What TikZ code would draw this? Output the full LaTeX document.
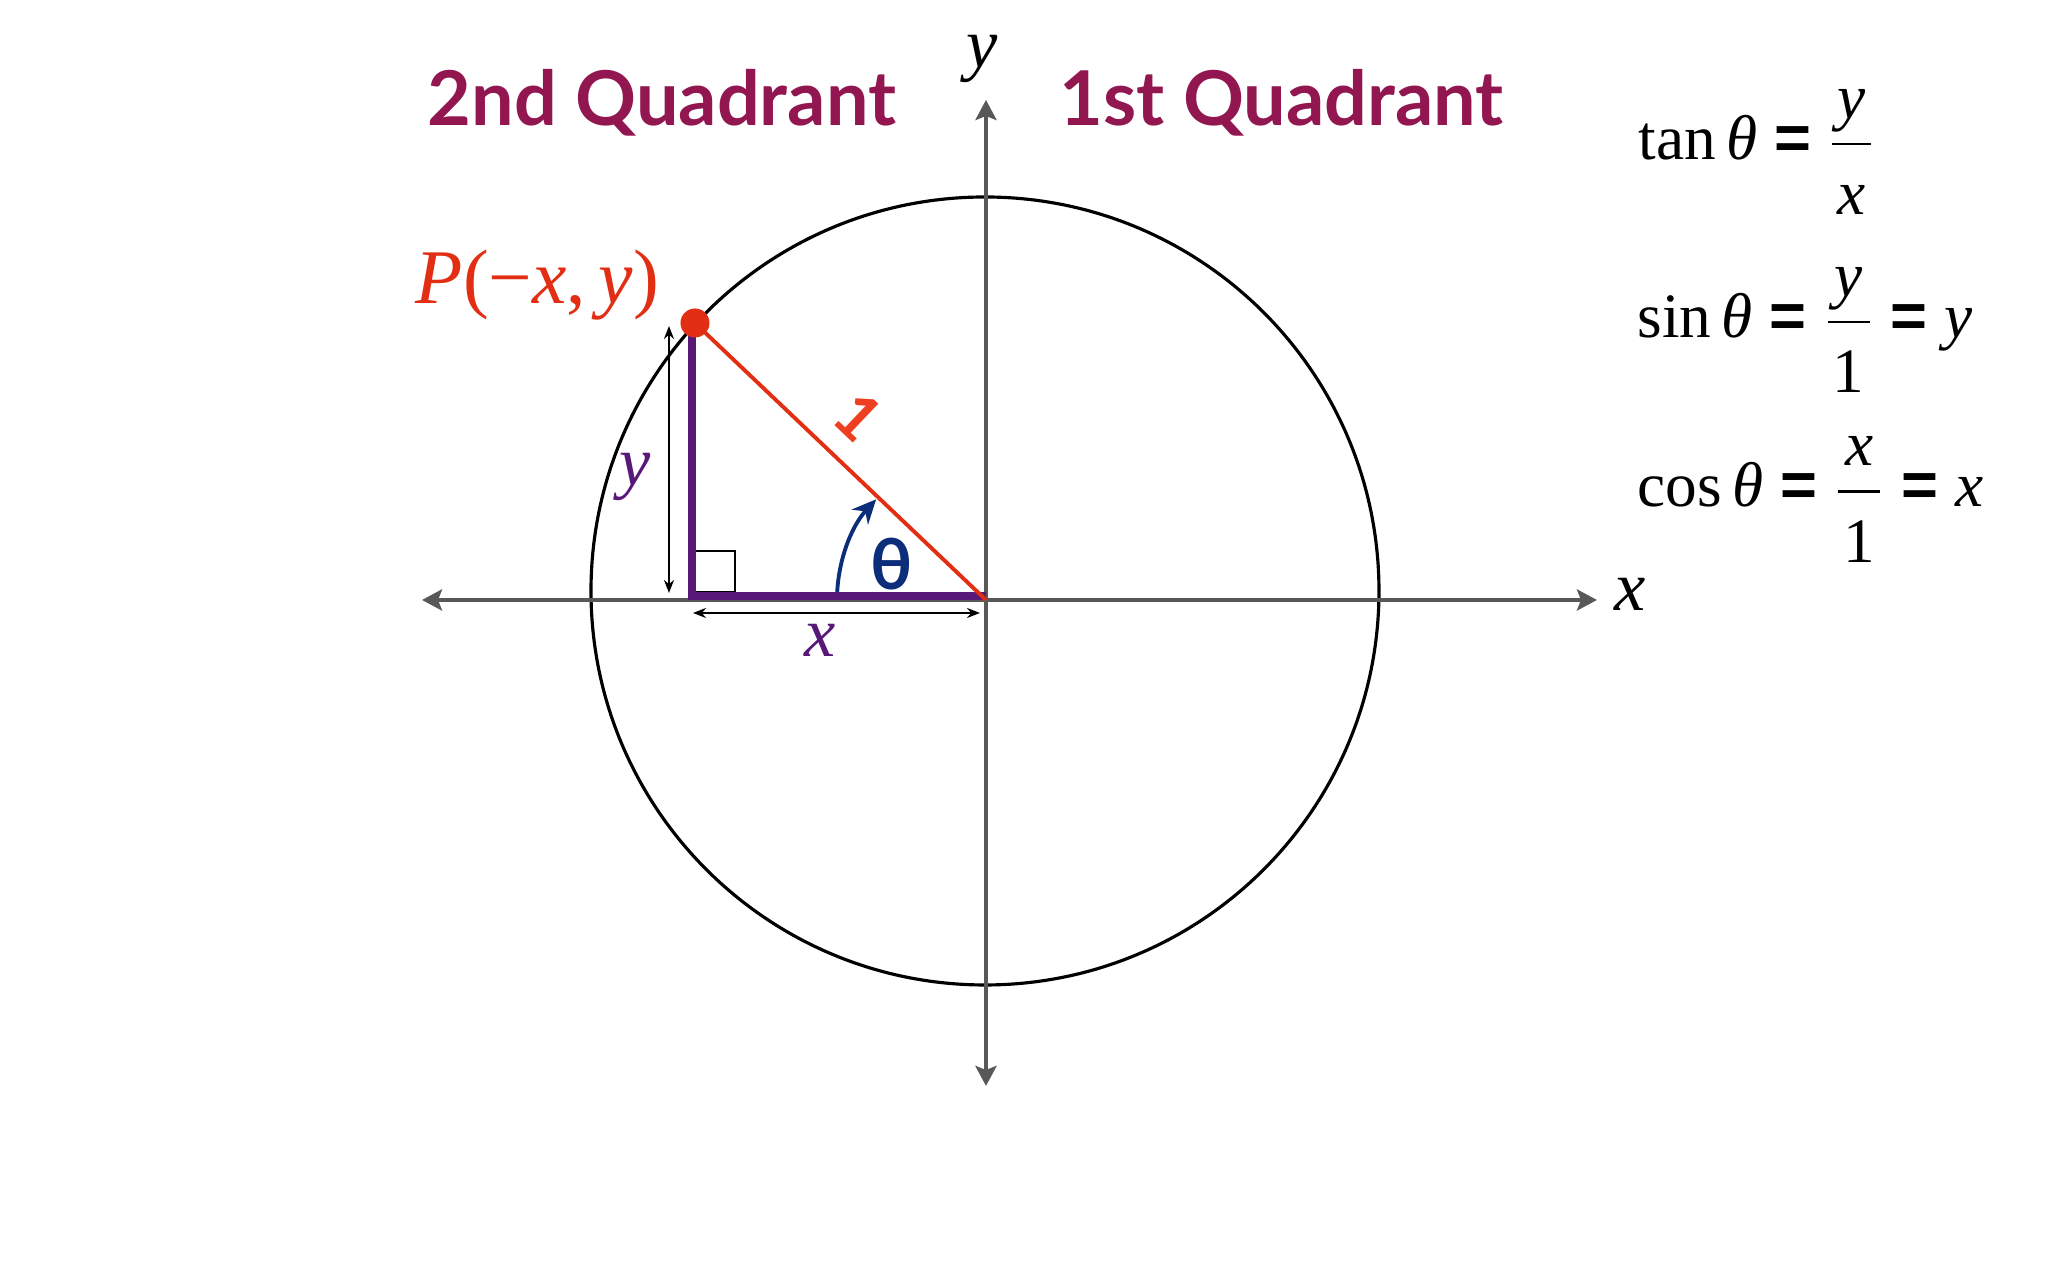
\documentclass[tikz,border=0pt]{standalone}
\usepackage{fontspec}
\usepackage{amsmath}
\setmainfont{Liberation Serif}
\newfontfamily\quadfont{Lato}
\newfontfamily\eqfont{Liberation Sans}
\usetikzlibrary{arrows.meta}

\definecolor{quadred}{RGB}{146,22,80}
\definecolor{pointred}{RGB}{226,46,18}
\definecolor{barred}{RGB}{238,64,32}
\definecolor{sidepurple}{RGB}{88,24,120}
\definecolor{anglenavy}{RGB}{12,46,122}
\definecolor{axisgray}{RGB}{88,88,88}

\newcommand{\varit}[1]{\text{\itshape #1}}
\newcommand{\eqsign}{\mathrel{\text{\eqfont\bfseries =}}}
\newcommand{\ratio}[2]{\frac{\kern1.5pt#1\kern1.5pt}{\kern1.5pt\raisebox{-4pt}{#2}\kern1.5pt}}

\begin{document}
\begin{tikzpicture}[
  axis/.style={draw=axisgray,line width=1.2pt,{Stealth[length=0.2cm,width=0.21cm,inset=0.04cm]}-{Stealth[length=0.2cm,width=0.21cm,inset=0.04cm]}},
  measure/.style={draw=black,line width=0.6pt,{Stealth[length=0.13cm,width=0.1cm]}-{Stealth[length=0.13cm,width=0.1cm]}},
  side/.style={draw=sidepurple,line width=2.3pt,line join=miter},
  hyp/.style={draw=pointred,line width=1.1pt},
  eqn/.style={anchor=base west,inner sep=0pt,font=\fontsize{18}{22}\selectfont},
  quad/.style={anchor=base west,inner sep=0pt,text=quadred,font=\quadfont\bfseries\fontsize{21.5}{25}\selectfont},
  varlabel/.style={inner sep=0pt,font=\fontsize{20}{24}\selectfont\itshape}]
\fill[white] (-9.86,-6.80) rectangle (10.62,6.00);
\useasboundingbox (-9.86,-6.80) rectangle (10.62,6.00);

% points
\coordinate (O) at (0,0);
\coordinate (xl) at (-5.64,0);
\coordinate (xr) at (6.11,0);
\coordinate (yt) at (0,5.00);
\coordinate (yb) at (0,-4.86);
\coordinate (P) at (-2.91,2.77);
\coordinate (top) at (-2.94,2.72);
\coordinate (foot) at (-2.94,0.04);
\coordinate (end) at (0,0.04);
\coordinate (ytop) at (-3.17,2.74);
\coordinate (ybot) at (-3.17,0.07);
\coordinate (xleft) at (-2.93,-0.13);
\coordinate (xright) at (-0.06,-0.13);

% unit circle and axes
\draw[line width=0.9pt] (-0.01,0.09) circle[radius=3.94];
\path [axis] (xl) -- (xr);
\path [axis] (yb) -- (yt);

% triangle
\draw[line width=0.6pt] (-2.92,0.08) rectangle (-2.51,0.49);
\path [measure] (ytop) -- (ybot);
\path [measure] (xleft) -- (xright);
\draw[anglenavy,line width=1.1pt,-{Stealth[length=0.24cm,width=0.22cm]}] ([shift=(180:1.49)]O) arc[start angle=180,end angle=137.5,radius=1.49];
\path [side] (top) -- (foot) -- (end);
\path [hyp] (P) -- (O) node[pos=0.455,sloped,above=0.2cm,inner sep=0pt,text=barred,font=\quadfont\bfseries\fontsize{18}{20}\selectfont] (one) {1};
\node[shape=circle,fill=pointred,minimum size=0.29cm,inner sep=0pt] (Pdot) at (P) {};

% labels
\node[varlabel,text=pointred,font=\fontsize{22}{26}\selectfont] (Plabel) at (-4.485,3.15) {\textit{P}(−\textit{x},\,\textit{y})};
\node[varlabel,text=sidepurple] (ylab) at (-3.51,1.23) {y};
\node[varlabel,text=sidepurple] (xlab) at (-1.66,-0.40) {x};
\node[inner sep=0pt,text=anglenavy,font=\quadfont\bfseries\fontsize{20}{24}\selectfont] (theta) at (-0.94,0.36) {θ};
\node[varlabel] (xaxis) at (6.44,0.06) {x};
\node[varlabel] (yaxis) at (-0.035,5.41) {y};
\node[quad] (second) at (-5.59,4.74) {2nd Quadrant};
\node[quad] (first) at (0.73,4.74) {1st Quadrant};

% ratios
\node[eqn] (tan) at (6.52,4.407) {$\displaystyle \text{tan}\,\varit{θ} \eqsign \ratio{\varit{y}}{\varit{x}}$};
\node[eqn] (sin) at (6.51,2.627) {$\displaystyle \text{sin}\,\varit{θ} \eqsign \ratio{\varit{y}}{1} \eqsign \varit{y}$};
\node[eqn] (cos) at (6.51,0.933) {$\displaystyle \text{cos}\,\varit{θ} \eqsign \ratio{\varit{x}}{1} \eqsign \varit{x}$};
\end{tikzpicture}
\end{document}
